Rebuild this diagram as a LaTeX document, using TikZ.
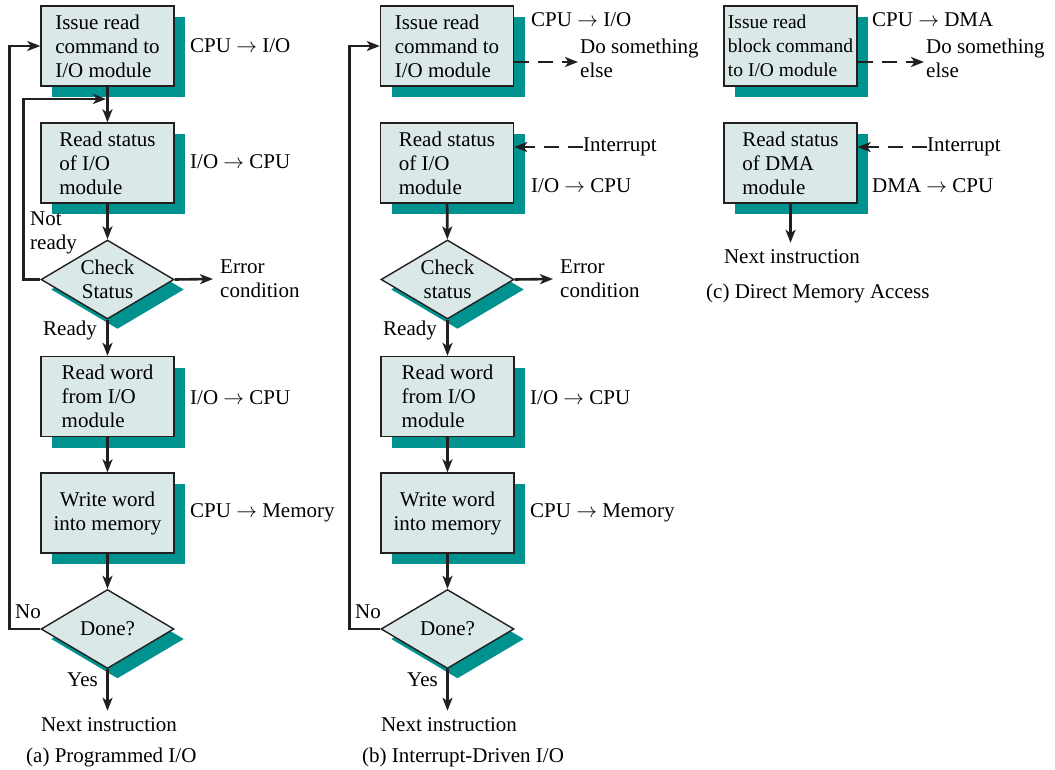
\documentclass[tikz,border=0pt]{standalone}
\usepackage{fontspec}
\setmainfont{Liberation Serif}
\usepackage{tikz}
\usetikzlibrary{shapes.geometric, arrows.meta, shadows}
\usepackage{xcolor}
\definecolor{boxFill}  {HTML}{DAE8E8}
\definecolor{boxShade} {HTML}{00928E}
\definecolor{lineDark} {HTML}{231F20}

\tikzset{
  procbox/.style={draw=lineDark, line width=1.4pt, fill=boxFill,
    minimum width=133pt, minimum height=80pt, inner sep=0pt, align=left,
    drop shadow={shadow xshift=11pt, shadow yshift=-11pt, fill=boxShade, opacity=1}},
  decision/.style={diamond, aspect=1.68, draw=lineDark, line width=1.4pt, fill=boxFill,
    minimum width=133pt, minimum height=79pt, inner sep=0pt, align=center,
    drop shadow={shadow xshift=10pt, shadow yshift=-10pt, fill=boxShade, opacity=1}},
  tag/.style={inner sep=0pt, anchor=west, align=left},
  endtext/.style={inner sep=7pt},
  flow/.style={draw=lineDark, line width=2.6pt, -{Stealth[length=13pt, width=10pt, inset=3.5pt]}},
  dashflow/.style={flow, dash pattern=on 15pt off 9pt},
}

\begin{document}
\begin{tikzpicture}[x=1pt, y=-1pt, font=\fontsize{21}{24}\selectfont]
    \useasboundingbox (0,0) rectangle (1055,770);

    % (a) Programmed I/O, top part
    \node[procbox] (issueA) at (107.5,46)  {Issue read\\command to\\I/O module};
    \node[procbox] (statA)  at (107.5,163) {Read status\\of I/O\\module};
    \node[tag] at (190,46)  {CPU $\rightarrow$ I/O};
    \node[tag] at (190,162) {I/O $\rightarrow$ CPU};
    \node[tag] at (30,233)  {Not\\ready};
    \coordinate (joinA) at (107.5,99);
    \draw[flow] (issueA) -- (statA);

    % (b) Interrupt-driven I/O, top part
    \node[procbox] (issueB) at (447,46)  {Issue read\\command to\\I/O module};
    \node[procbox] (statB)  at (447,163) {Read status\\of I/O\\module};
    \node[tag] at (531,20)  {CPU $\rightarrow$ I/O};
    \node[tag] at (531,186) {I/O $\rightarrow$ CPU};
    \node[tag] (elseB) at (580,58)  {Do something\\else};
    \node[tag] (intB)  at (583,147) {Interrupt};
    \coordinate (dsB) at ([yshift=-16pt]issueB.east);
    \draw[dashflow] (dsB) -- ([xshift=-2pt]dsB -| elseB.west);
    \draw[dashflow] (intB.west) -- (intB.west -| statB.east);

    % common lower part of (a) and (b)
    \foreach \p/\dx/\ck in {A/0/Status, B/340/status}{
      \node[decision] (check\p) at (107.5+\dx,279.5) {Check\\\ck};
      \node[procbox] (word\p) at (107.5+\dx,396.5) {Read word\\from I/O\\module};
      \node[procbox, align=center] (mem\p) at (107.5+\dx,513) {Write word\\into memory};
      \node[decision] (done\p) at (107.5+\dx,629) {Done?};
      \node[endtext] (next\p) at (109+\dx,725) {Next instruction};
      \node[tag] (err\p) at (220+\dx,279) {Error\\condition};
      \node[tag] at (190+\dx,398) {I/O $\rightarrow$ CPU};
      \node[tag] at (190+\dx,513) {CPU $\rightarrow$ Memory};
      \node[tag] at (43+\dx,330) {Ready};
      \node[tag] at (15+\dx,612) {No};
      \node[tag] at (67+\dx,680) {Yes};
      \draw[flow] (stat\p) -- (check\p);
      \draw[flow] (check\p) -- (word\p);
      \draw[flow] (word\p) -- (mem\p);
      \draw[flow] (mem\p) -- (done\p);
      \draw[flow] (done\p) -- (done\p.south |- next\p.north);
      \draw[flow] (check\p.east) -- ([xshift=-7pt]err\p.west);
      \draw[flow] (done\p.west) -- ++(-31,0) |- (issue\p.west);
    }
    \draw[flow, shorten >=1.5pt] (checkA.west) -- ++(-17,0) |- (joinA);

    % (c) Direct memory access
    \node[procbox, font=\fontsize{19.5}{24}\selectfont] (issueC) at (790.5,46)
      {Issue read\\block command\\to I/O module};
    \node[procbox] (statC)  at (790.5,163) {Read status\\of DMA\\module};
    \node[tag] at (872,20)  {CPU $\rightarrow$ DMA};
    \node[tag] at (872,186) {DMA $\rightarrow$ CPU};
    \node[tag] (elseC) at (926,58)  {Do something\\else};
    \node[tag] (intC)  at (927,147) {Interrupt};
    \node[endtext] (nextC) at (792,257) {Next instruction};
    \coordinate (dsC) at ([yshift=-16pt]issueC.east);
    \draw[dashflow] (dsC) -- ([xshift=-2pt]dsC -| elseC.west);
    \draw[dashflow] (intC.west) -- (intC.west -| statC.east);
    \draw[flow] (statC) -- (statC.south |- nextC.north);

    % captions
    \node[tag] at (26,757)  {(a) Programmed I/O};
    \node[tag] at (362,757) {(b) Interrupt-Driven I/O};
    \node[tag] at (706,293) {(c) Direct Memory Access};
  \end{tikzpicture}
\end{document}
